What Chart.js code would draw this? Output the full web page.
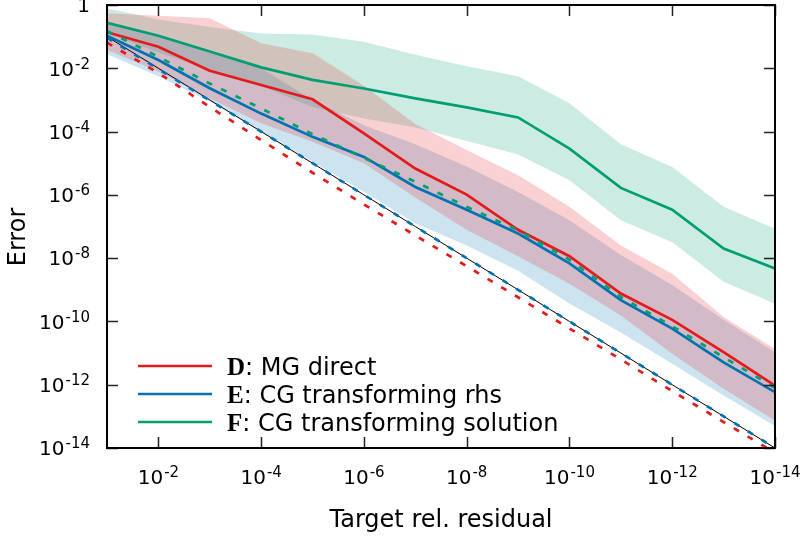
<!DOCTYPE html>
<html>
<head>
<meta charset="utf-8">
<script src="https://cdn.jsdelivr.net/npm/chart.js@4.4.0/dist/chart.umd.min.js"></script>
<style>
  html, body { margin: 0; padding: 0; background: #fff; }
</style>
</head>
<body>
<canvas id="errChart" width="802" height="540"></canvas>
<script>
// target relative residual (x axis, one point per decade)
const targets = [1e-1, 1e-2, 1e-3, 1e-4, 1e-5, 1e-6, 1e-7, 1e-8, 1e-9, 1e-10, 1e-11, 1e-12, 1e-13, 1e-14];

// D: MG direct
const dMean = [1.38e-1, 4.8e-2, 8.3e-3, 2.95e-3, 1.05e-3, 8.7e-5, 6.8e-6, 1.02e-6, 7.9e-8, 1.15e-8, 7.6e-10, 1.12e-10, 1.07e-11, 9.3e-13];
const dBest = [6.5e-2, 7.1e-3, 6.0e-4, 5.4e-5, 5.0e-6, 5.0e-7, 5.2e-8, 5.6e-9, 5.8e-10, 6.0e-11, 6.3e-12, 6.3e-13, 6.6e-14, 7.1e-15];
const dMax = [5.5e-1, 4.6e-1, 3.8e-1, 6.2e-2, 3.0e-2, 2.8e-3, 1.74e-4, 2.6e-5, 4.2e-6, 4.2e-7, 2.5e-8, 3.2e-9, 1.38e-10, 1.35e-11];
const dMin = [3.8e-2, 7.9e-3, 1.12e-3, 1.82e-4, 4.8e-5, 1.0e-5, 8.3e-7, 7.9e-8, 1.15e-8, 1.55e-9, 1.55e-10, 9.5e-12, 7.4e-13, 7.4e-14];

// E: CG transforming rhs
const eMean = [1.07e-1, 1.82e-2, 2.34e-3, 3.7e-4, 6.8e-5, 1.58e-5, 1.78e-6, 3.4e-7, 6.0e-8, 6.8e-9, 4.7e-10, 5.9e-11, 5.1e-12, 5.8e-13];
const eBest = [9.3e-2, 9.5e-3, 9.6e-4, 1.0e-4, 1.0e-5, 1.0e-6, 1.0e-7, 1.0e-8, 1.0e-9, 1.0e-10, 1.0e-11, 1.0e-12, 1.0e-13, 1.0e-14];
const eMax = [2.8e-1, 1.0e-1, 3.2e-2, 1.0e-2, 1.0e-3, 1.58e-4, 4.0e-5, 7.9e-6, 1.23e-6, 1.58e-7, 1.26e-8, 1.41e-9, 1.12e-10, 1.07e-11];
const eMin = [2.8e-2, 5.6e-3, 8.9e-4, 1.0e-4, 1.12e-5, 1.26e-6, 1.26e-7, 2.5e-8, 4.0e-9, 3.7e-10, 4.5e-11, 4.6e-12, 4.6e-13, 5.0e-14];

// F: CG transforming solution
const fMean = [2.75e-1, 1.07e-1, 3.4e-2, 1.07e-2, 4.3e-3, 2.3e-3, 1.12e-3, 5.8e-4, 2.8e-4, 2.9e-5, 1.66e-6, 3.4e-7, 2.0e-8, 4.7e-9];
const fBest = [1.51e-1, 2.3e-2, 3.3e-3, 5.4e-4, 8.3e-5, 1.48e-5, 2.6e-6, 4.2e-7, 7.6e-8, 8.9e-9, 5.9e-10, 7.1e-11, 7.4e-12, 7.9e-13];
const fMax = [7.9e-1, 3.5e-1, 2.0e-1, 1.26e-1, 1.17e-1, 6.9e-2, 2.7e-2, 1.17e-2, 5.6e-3, 7.8e-4, 4.0e-5, 7.6e-6, 4.2e-7, 8.5e-8];
const fMin = [1.26e-1, 3.2e-2, 8.9e-3, 2.8e-3, 6.0e-4, 2.6e-4, 1.35e-4, 5.0e-5, 1.9e-5, 2.9e-6, 1.58e-7, 3.2e-8, 1.78e-9, 3.6e-10];

// error = target reference line
const refLine = [1e-1, 1e-2, 1e-3, 1e-4, 1e-5, 1e-6, 1e-7, 1e-8, 1e-9, 1e-10, 1e-11, 1e-12, 1e-13, 1e-14];

const xTickExps = [-2, -4, -6, -8, -10, -12, -14];
const yTickExps = [0, -2, -4, -6, -8, -10, -12, -14];

const legendKeys = ['D', 'E', 'F'];
const legendTexts = [': MG direct', ': CG transforming rhs', ': CG transforming solution'];

const RED = '#e41a1c', BLUE = '#0072b2', GREEN = '#009e73';
const legendColors = [RED, BLUE, GREEN];

const pts = arr => arr.map((v, i) => ({ x: targets[i], y: v }));

function band(upper, lower, fillColor) {
    return [
        { data: pts(upper), fill: '+1', backgroundColor: fillColor, borderColor: 'transparent', borderWidth: 0, order: 10 },
        { data: pts(lower), fill: false, borderColor: 'transparent', borderWidth: 0, order: 10 }
    ];
}

function solid(data, color) {
    return { data: pts(data), borderColor: color, borderWidth: 2.7, fill: false, order: 2 };
}

function dashed(data, color) {
    return { data: pts(data), borderColor: color, borderWidth: 2.7, borderDash: [6, 10], fill: false, order: 1 };
}

const FONT = '"DejaVu Sans", sans-serif';

// draws "10" with superscript exponent
function drawPow(ctx, exp, x, baseY, align) {
    ctx.fillStyle = '#000';
    ctx.textBaseline = 'alphabetic';
    ctx.textAlign = 'left';
    if (exp === 0) {
        ctx.font = '20px ' + FONT;
        const w = ctx.measureText('1').width;
        const x0 = align === 'right' ? x - w : x - w / 2;
        ctx.fillText('1', x0, baseY);
        return;
    }
    ctx.font = '20px ' + FONT;
    const wb = ctx.measureText('10').width;
    ctx.font = '15px ' + FONT;
    const es = '-' + Math.abs(exp);
    const we = ctx.measureText(es).width;
    const total = wb + we + 1;
    const x0 = align === 'right' ? x - total : x - total / 2;
    ctx.font = '20px ' + FONT;
    ctx.fillText('10', x0, baseY);
    ctx.font = '15px ' + FONT;
    ctx.fillText(es, x0 + wb + 1, baseY - 7);
}

const decorPlugin = {
    id: 'decor',
    afterDraw(chart) {
        const ctx = chart.ctx;
        const a = chart.chartArea;
        const xs = chart.scales.x, ys = chart.scales.y;
        ctx.save();

        // tick marks on all four sides, pointing inward
        ctx.strokeStyle = '#222';
        ctx.lineWidth = 1.5;
        ctx.beginPath();
        xTickExps.forEach(e => {
            const px = Math.round(xs.getPixelForValue(Math.pow(10, e))) + 0.5;
            ctx.moveTo(px, a.bottom); ctx.lineTo(px, a.bottom - 11);
            ctx.moveTo(px, a.top); ctx.lineTo(px, a.top + 11);
        });
        yTickExps.forEach(e => {
            const py = Math.round(ys.getPixelForValue(Math.pow(10, e))) + 0.5;
            ctx.moveTo(a.left, py); ctx.lineTo(a.left + 11, py);
            ctx.moveTo(a.right, py); ctx.lineTo(a.right - 11, py);
        });
        ctx.stroke();

        // frame
        ctx.strokeStyle = '#000';
        ctx.lineWidth = 2;
        ctx.strokeRect(a.left, a.top, a.right - a.left, a.bottom - a.top);

        // tick labels
        xTickExps.forEach(e => {
            drawPow(ctx, e, xs.getPixelForValue(Math.pow(10, e)), 484, 'center');
        });
        yTickExps.forEach(e => {
            drawPow(ctx, e, 90, ys.getPixelForValue(Math.pow(10, e)) + 7.3, 'right');
        });

        // axis titles
        ctx.fillStyle = '#000';
        ctx.font = '24px ' + FONT;
        ctx.textAlign = 'center';
        ctx.textBaseline = 'middle';
        ctx.fillText('Target rel. residual', (a.left + a.right) / 2, 521);
        ctx.save();
        ctx.translate(19, 237);
        ctx.rotate(-Math.PI / 2);
        ctx.fillText('Error', 0, 0);
        ctx.restore();

        // legend
        legendKeys.forEach((k, i) => {
            const y = 366 + i * 28;
            ctx.strokeStyle = legendColors[i];
            ctx.lineWidth = 2.7;
            ctx.setLineDash([]);
            ctx.beginPath();
            ctx.moveTo(138, y); ctx.lineTo(212, y);
            ctx.stroke();
            ctx.textAlign = 'left';
            ctx.textBaseline = 'alphabetic';
            ctx.font = 'bold 25px "Liberation Serif", serif';
            ctx.fillText(k, 227, y + 8.5);
            const kw = ctx.measureText(k).width;
            ctx.font = '24px ' + FONT;
            ctx.fillText(legendTexts[i], 227 + kw, y + 8.5);
        });
        ctx.restore();
    }
};

new Chart(document.getElementById('errChart'), {
    type: 'line',
    data: {
        datasets: [
            ...band(dMax, dMin, 'rgba(228, 26, 28, 0.2)'),
            ...band(eMax, eMin, 'rgba(0, 114, 178, 0.2)'),
            ...band(fMax, fMin, 'rgba(0, 158, 115, 0.2)'),
            solid(dMean, RED),
            solid(eMean, BLUE),
            solid(fMean, GREEN),
            { data: pts(refLine), borderColor: '#000', borderWidth: 1, fill: false, order: 3 },
            dashed(dBest, RED),
            dashed(eBest, BLUE),
            dashed(fBest, GREEN)
        ]
    },
    options: {
        responsive: false,
        animation: false,
        devicePixelRatio: 1,
        layout: { padding: { left: 0, right: 27, top: 5, bottom: 0 }, autoPadding: false },
        elements: { point: { radius: 0 }, line: { tension: 0 } },
        plugins: { legend: { display: false }, tooltip: { enabled: false } },
        scales: {
            x: {
                type: 'logarithmic', reverse: true, min: 1e-14, max: 1e-1,
                grid: { display: false }, border: { display: false },
                ticks: { display: false },
                afterFit: s => { s.height = 92; }
            },
            y: {
                type: 'logarithmic', min: 1e-14, max: 1,
                grid: { display: false }, border: { display: false },
                ticks: { display: false },
                afterFit: s => { s.width = 107; }
            }
        }
    },
    plugins: [decorPlugin]
});
</script>
</body>
</html>
